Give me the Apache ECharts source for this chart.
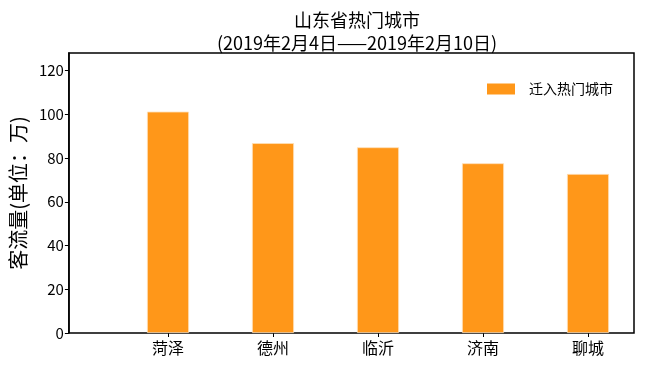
<!DOCTYPE html>
<html>
<head>
<meta charset="utf-8">
<script src="https://cdn.jsdelivr.net/npm/echarts@6/dist/echarts.min.js"></script>
<style>html,body{margin:0;padding:0;background:#fff;}#c{width:650px;height:365px;}</style>
</head>
<body>
<div id="c"></div>
<script>
const categories = ['菏泽', '德州', '临沂', '济南', '聊城'];
const inflow = [101.2, 86.8, 84.9, 77.6, 72.7];
const yTicks = [0, 20, 40, 60, 80, 100, 120];
const seriesName = '迁入热门城市';
const titleLines = ['山东省热门城市', '(2019年2月4日——2019年2月10日)'];
const yLabel = '客流量(单位：万)';

const FONT = '"Noto Sans CJK SC", "DejaVu Sans", sans-serif';
const chart = echarts.init(document.getElementById('c'), null, {renderer: 'canvas'});
const gTop = 53, gHeight = 280;
chart.setOption({
  animation: false,
  title: {
    text: titleLines.join('\n'),
    left: 352, top: 4, textAlign: 'center',
    textStyle: {fontFamily: FONT, fontSize: 18, fontWeight: 'normal', color: '#000', lineHeight: 23}
  },
  legend: {
    data: [seriesName],
    left: 482, top: 77,
    icon: 'rect',
    itemWidth: 28, itemHeight: 11,
    itemStyle: {borderWidth: 0},
    textStyle: {fontFamily: FONT, fontSize: 14, color: '#000', padding: [0, 0, 0, 9]}
  },
  grid: [
    {left: 68, top: gTop, width: 566, height: gHeight, show: true, borderColor: '#000', borderWidth: 1.5, backgroundColor: 'transparent'},
    {left: 115.5, top: gTop, width: 525, height: gHeight}
  ],
  xAxis: [
    {gridIndex: 0, type: 'value', min: 0, max: 1, show: false},
    {gridIndex: 1, type: 'category', data: categories,
      axisLine: {show: false},
      axisTick: {show: true, alignWithLabel: true, length: 4, lineStyle: {color: '#000'}},
      axisLabel: {fontFamily: FONT, fontSize: 16, color: '#000', margin: 7}}
  ],
  yAxis: [
    {gridIndex: 0, type: 'value', min: 0, max: 128,
      name: yLabel, nameLocation: 'middle', nameGap: 30, nameRotate: 90,
      nameTextStyle: {fontFamily: FONT, fontSize: 20, color: '#000'},
      axisLine: {show: true, lineStyle: {color: '#000', width: 1.5}},
      axisTick: {show: true, length: 4, lineStyle: {color: '#000'}, customValues: yTicks},
      axisLabel: {fontFamily: FONT, fontSize: 15, color: '#000', margin: 5, customValues: yTicks},
      splitLine: {show: false}},
    {gridIndex: 1, type: 'value', min: 0, max: 128, show: false}
  ],
  series: [{
    name: seriesName, type: 'bar', xAxisIndex: 1, yAxisIndex: 1,
    data: inflow, barWidth: 42,
    itemStyle: {color: 'rgba(255,140,0,0.9)', borderColor: '#ffe0b8', borderWidth: 0.8}
  }]
});
</script>
</body>
</html>
